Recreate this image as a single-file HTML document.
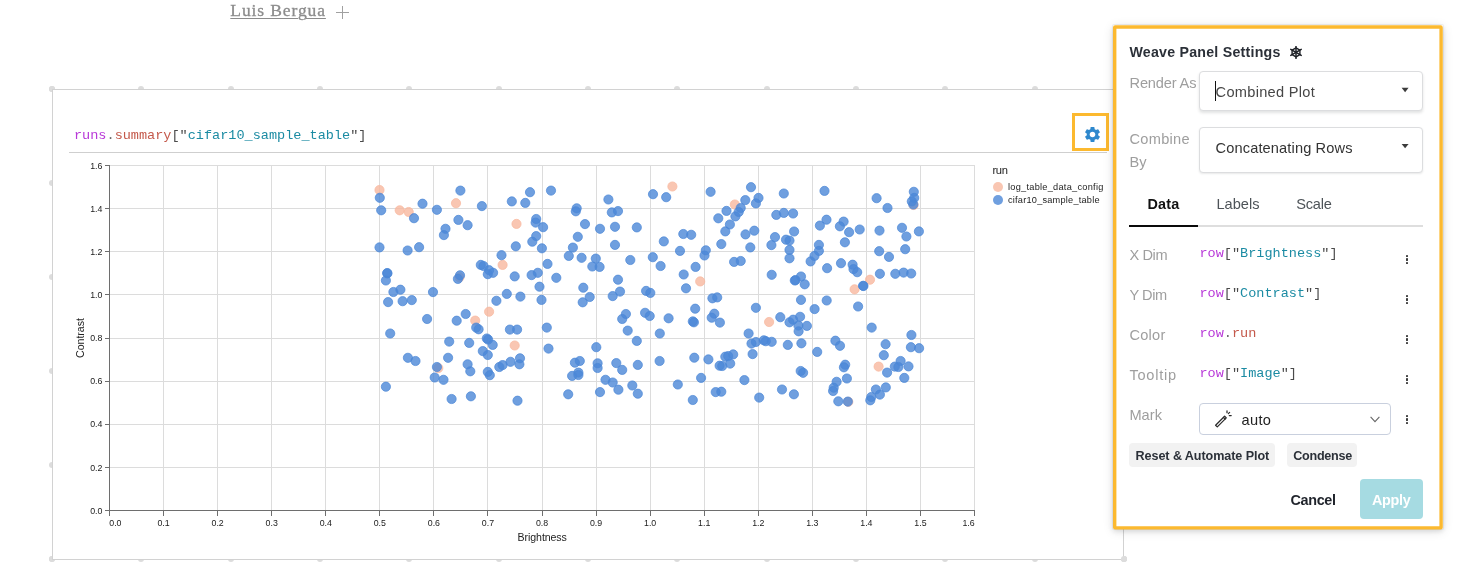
<!DOCTYPE html>
<html lang="en"><head><meta charset="utf-8"><title>Weave Panel Settings</title>
<style>
html,body{margin:0;padding:0;background:#fff;}
body{width:1464px;height:576px;position:relative;overflow:hidden;font-family:'Liberation Sans', sans-serif;}
#root{position:absolute;left:0;top:0;width:1464px;height:576px;will-change:transform;}
.t{position:absolute;white-space:nowrap;}
.gd{position:absolute;width:6px;height:6px;border-radius:50%;background:#dcdcdc;}
#mainpanel{position:absolute;left:52px;top:89px;width:1070px;height:469px;border:1px solid #d2d2d2;background:#fff;}
#gearbox{position:absolute;left:1072px;top:113px;width:31px;height:32px;border:3px solid #fcb92f;background:#fff;}
.b{fill:#4b87d7;stroke:#4b87d7;}
.p{fill:#f8b89f;stroke:#f8b89f;}
.lg{position:absolute;width:10px;height:10px;border-radius:50%;}
#sp{position:absolute;left:1113px;top:25px;width:330px;height:504px;background:#fff;border-radius:1px;
 box-shadow:0 0 0 1px rgba(34,36,38,.06),0 2px 5px 0 rgba(34,36,38,.13),0 2px 11px 0 rgba(34,36,38,.12);}
.dd{position:absolute;box-sizing:border-box;border:1px solid #dcdddf;border-radius:4px;background:#fff;}
.caret{position:absolute;width:0;height:0;border-left:3.5px solid transparent;border-right:3.5px solid transparent;border-top:4.5px solid #3c3c3c;}
.sb{position:absolute;height:24px;border-radius:4px;background:#f2f2f2;}
</style></head>
<body>
<div id="root">
<span class="t" id="hdr" style="left:230.30px;top:0.34px;font:400 17.5px/20px 'Liberation Serif', serif;color:#8c8c8c;letter-spacing:0.898px;-webkit-text-stroke:0.3px #8c8c8c;text-decoration:underline;text-decoration-thickness:1px;text-underline-offset:1.5px;">Luis Bergua</span>
<div style="position:absolute;left:336px;top:12px;width:13px;height:1px;background:#a0a0a0"></div>
<div style="position:absolute;left:342px;top:5.5px;width:1px;height:13.5px;background:#a0a0a0"></div>
<div class="gd" style="left:49.0px;top:86.0px"></div>
<div class="gd" style="left:49.0px;top:556.0px"></div>
<div class="gd" style="left:138.3px;top:86.0px"></div>
<div class="gd" style="left:138.3px;top:556.0px"></div>
<div class="gd" style="left:227.7px;top:86.0px"></div>
<div class="gd" style="left:227.7px;top:556.0px"></div>
<div class="gd" style="left:317.0px;top:86.0px"></div>
<div class="gd" style="left:317.0px;top:556.0px"></div>
<div class="gd" style="left:406.3px;top:86.0px"></div>
<div class="gd" style="left:406.3px;top:556.0px"></div>
<div class="gd" style="left:495.6px;top:86.0px"></div>
<div class="gd" style="left:495.6px;top:556.0px"></div>
<div class="gd" style="left:585.0px;top:86.0px"></div>
<div class="gd" style="left:585.0px;top:556.0px"></div>
<div class="gd" style="left:674.3px;top:86.0px"></div>
<div class="gd" style="left:674.3px;top:556.0px"></div>
<div class="gd" style="left:763.6px;top:86.0px"></div>
<div class="gd" style="left:763.6px;top:556.0px"></div>
<div class="gd" style="left:853.0px;top:86.0px"></div>
<div class="gd" style="left:853.0px;top:556.0px"></div>
<div class="gd" style="left:942.3px;top:86.0px"></div>
<div class="gd" style="left:942.3px;top:556.0px"></div>
<div class="gd" style="left:1031.6px;top:86.0px"></div>
<div class="gd" style="left:1031.6px;top:556.0px"></div>
<div class="gd" style="left:1121.0px;top:86.0px"></div>
<div class="gd" style="left:1121.0px;top:556.0px"></div>
<div class="gd" style="left:49.0px;top:86.0px"></div>
<div class="gd" style="left:1121.0px;top:86.0px"></div>
<div class="gd" style="left:49.0px;top:180.0px"></div>
<div class="gd" style="left:1121.0px;top:180.0px"></div>
<div class="gd" style="left:49.0px;top:274.0px"></div>
<div class="gd" style="left:1121.0px;top:274.0px"></div>
<div class="gd" style="left:49.0px;top:368.0px"></div>
<div class="gd" style="left:1121.0px;top:368.0px"></div>
<div class="gd" style="left:49.0px;top:462.0px"></div>
<div class="gd" style="left:1121.0px;top:462.0px"></div>
<div class="gd" style="left:49.0px;top:556.0px"></div>
<div class="gd" style="left:1121.0px;top:556.0px"></div>
<div id="mainpanel"></div>
<div class="gd" style="left:1121px;top:556px"></div>
<span class="t" id="expr" style="left:74.00px;top:125.69px;font:400 13.54px/20px 'Liberation Mono', monospace;color:#444;letter-spacing:0.004px;"><span style="color:#b838d8">runs</span><span style="color:#6b6b6b">.</span><span style="color:#c4594b">summary</span><span style="color:#4a4a4a">[&quot;</span><span style="color:#1b8ba3">cifar10_sample_table</span><span style="color:#4a4a4a">&quot;]</span></span>
<div style="position:absolute;left:69px;top:152px;width:1038px;height:1px;background:#cfcfcf"></div>
<div id="gearbox"></div>
<svg style="position:absolute;left:1083px;top:124.9px" width="19" height="19" viewBox="0 0 24 24"><path fill="#2e88cd" d="M19.14 12.94c.04-.3.06-.61.06-.94 0-.32-.02-.64-.07-.94l2.03-1.58a.49.49 0 0 0 .12-.61l-1.92-3.32a.488.488 0 0 0-.59-.22l-2.39.96c-.5-.38-1.03-.7-1.62-.94l-.36-2.54a.484.484 0 0 0-.48-.41h-3.84c-.24 0-.43.17-.47.41l-.36 2.54c-.59.24-1.13.57-1.62.94l-2.39-.96c-.22-.08-.47 0-.59.22L2.74 8.87c-.12.21-.08.47.12.61l2.03 1.58c-.05.3-.09.63-.09.94s.02.64.07.94l-2.03 1.58a.49.49 0 0 0-.12.61l1.92 3.32c.12.22.37.29.59.22l2.39-.96c.5.38 1.03.7 1.62.94l.36 2.54c.05.24.24.41.48.41h3.84c.24 0 .44-.17.47-.41l.36-2.54c.59-.24 1.13-.56 1.62-.94l2.39.96c.22.08.47 0 .59-.22l1.92-3.32c.12-.22.07-.47-.12-.61l-2.01-1.58zM12 15.6c-1.98 0-3.6-1.62-3.6-3.6s1.62-3.6 3.6-3.6 3.6 1.62 3.6 3.6-1.62 3.6-3.6 3.6z"/></svg>
<svg id="chart" style="position:absolute;left:0;top:0" width="1113" height="576" viewBox="0 0 1113 576">
<path d="M109.5 165.5V510.5M163.5 165.5V510.5M217.5 165.5V510.5M271.5 165.5V510.5M325.5 165.5V510.5M379.5 165.5V510.5M433.5 165.5V510.5M487.5 165.5V510.5M542.5 165.5V510.5M596.5 165.5V510.5M650.5 165.5V510.5M704.5 165.5V510.5M758.5 165.5V510.5M812.5 165.5V510.5M866.5 165.5V510.5M920.5 165.5V510.5M974.5 165.5V510.5M109.5 510.5H974.5M109.5 467.5H974.5M109.5 424.5H974.5M109.5 381.5H974.5M109.5 338.5H974.5M109.5 294.5H974.5M109.5 251.5H974.5M109.5 208.5H974.5M109.5 165.5H974.5" stroke="#dcdcdc" stroke-width="1" fill="none" shape-rendering="crispEdges"/>
<path d="M109.5 510.5v5M163.5 510.5v5M217.5 510.5v5M271.5 510.5v5M325.5 510.5v5M379.5 510.5v5M433.5 510.5v5M487.5 510.5v5M542.5 510.5v5M596.5 510.5v5M650.5 510.5v5M704.5 510.5v5M758.5 510.5v5M812.5 510.5v5M866.5 510.5v5M920.5 510.5v5M974.5 510.5v5M109.5 510.5h-5M109.5 467.5h-5M109.5 424.5h-5M109.5 381.5h-5M109.5 338.5h-5M109.5 294.5h-5M109.5 251.5h-5M109.5 208.5h-5M109.5 165.5h-5" stroke="#6e6e6e" stroke-width="1" fill="none" shape-rendering="crispEdges"/>
<path d="M109.5 165.5V510.5H974.5" stroke="#6e6e6e" stroke-width="1" fill="none" shape-rendering="crispEdges"/>
<g fill-opacity="0.8" stroke-opacity="0.8" stroke-width="0.9"><circle class="p" cx="379.5" cy="190.0" r="4.6"/><circle class="p" cx="399.7" cy="210.3" r="4.6"/><circle class="p" cx="408.7" cy="212.0" r="4.6"/><circle class="p" cx="456.0" cy="203.2" r="4.6"/><circle class="p" cx="516.5" cy="223.9" r="4.6"/><circle class="p" cx="672.4" cy="186.5" r="4.6"/><circle class="p" cx="734.8" cy="204.5" r="4.6"/><circle class="p" cx="913.6" cy="205.0" r="4.6"/><circle class="p" cx="459.5" cy="277.3" r="4.6"/><circle class="p" cx="502.6" cy="264.9" r="4.6"/><circle class="p" cx="489.1" cy="311.7" r="4.6"/><circle class="p" cx="475.2" cy="320.6" r="4.6"/><circle class="p" cx="700.2" cy="281.4" r="4.6"/><circle class="p" cx="870.0" cy="279.7" r="4.6"/><circle class="p" cx="854.6" cy="289.3" r="4.6"/><circle class="p" cx="769.1" cy="322.0" r="4.6"/><circle class="p" cx="514.7" cy="345.5" r="4.6"/><circle class="p" cx="438.3" cy="368.1" r="4.6"/><circle class="p" cx="878.6" cy="366.6" r="4.6"/><circle class="p" cx="848.3" cy="401.8" r="4.6"/><circle class="b" cx="379.8" cy="197.8" r="4.6"/><circle class="b" cx="381.2" cy="210.3" r="4.6"/><circle class="b" cx="414.0" cy="218.2" r="4.6"/><circle class="b" cx="422.5" cy="203.7" r="4.6"/><circle class="b" cx="436.9" cy="209.8" r="4.6"/><circle class="b" cx="460.4" cy="190.6" r="4.6"/><circle class="b" cx="481.9" cy="206.1" r="4.6"/><circle class="b" cx="458.4" cy="219.9" r="4.6"/><circle class="b" cx="467.6" cy="225.2" r="4.6"/><circle class="b" cx="445.5" cy="228.8" r="4.6"/><circle class="b" cx="443.9" cy="235.1" r="4.6"/><circle class="b" cx="511.8" cy="201.4" r="4.6"/><circle class="b" cx="525.3" cy="202.9" r="4.6"/><circle class="b" cx="530.0" cy="192.2" r="4.6"/><circle class="b" cx="551.0" cy="190.6" r="4.6"/><circle class="b" cx="536.2" cy="219.0" r="4.6"/><circle class="b" cx="535.6" cy="222.6" r="4.6"/><circle class="b" cx="543.1" cy="227.2" r="4.6"/><circle class="b" cx="536.2" cy="236.1" r="4.6"/><circle class="b" cx="532.3" cy="241.7" r="4.6"/><circle class="b" cx="515.8" cy="246.3" r="4.6"/><circle class="b" cx="541.9" cy="248.3" r="4.6"/><circle class="b" cx="501.5" cy="255.2" r="4.6"/><circle class="b" cx="379.5" cy="247.4" r="4.6"/><circle class="b" cx="407.6" cy="250.5" r="4.6"/><circle class="b" cx="419.1" cy="247.2" r="4.6"/><circle class="b" cx="653.0" cy="194.2" r="4.6"/><circle class="b" cx="666.2" cy="197.2" r="4.6"/><circle class="b" cx="710.6" cy="191.8" r="4.6"/><circle class="b" cx="608.4" cy="199.5" r="4.6"/><circle class="b" cx="576.7" cy="208.3" r="4.6"/><circle class="b" cx="575.8" cy="211.3" r="4.6"/><circle class="b" cx="611.8" cy="212.4" r="4.6"/><circle class="b" cx="618.0" cy="211.1" r="4.6"/><circle class="b" cx="585.0" cy="224.1" r="4.6"/><circle class="b" cx="600.0" cy="228.8" r="4.6"/><circle class="b" cx="615.0" cy="226.8" r="4.6"/><circle class="b" cx="636.8" cy="227.4" r="4.6"/><circle class="b" cx="577.8" cy="236.8" r="4.6"/><circle class="b" cx="615.0" cy="244.9" r="4.6"/><circle class="b" cx="572.9" cy="247.6" r="4.6"/><circle class="b" cx="568.8" cy="255.9" r="4.6"/><circle class="b" cx="581.6" cy="257.8" r="4.6"/><circle class="b" cx="595.8" cy="258.6" r="4.6"/><circle class="b" cx="630.3" cy="260.0" r="4.6"/><circle class="b" cx="652.8" cy="257.2" r="4.6"/><circle class="b" cx="663.8" cy="241.4" r="4.6"/><circle class="b" cx="680.0" cy="250.9" r="4.6"/><circle class="b" cx="683.3" cy="234.0" r="4.6"/><circle class="b" cx="691.2" cy="234.8" r="4.6"/><circle class="b" cx="705.8" cy="250.3" r="4.6"/><circle class="b" cx="704.5" cy="255.5" r="4.6"/><circle class="b" cx="745.3" cy="200.1" r="4.6"/><circle class="b" cx="740.7" cy="208.0" r="4.6"/><circle class="b" cx="738.7" cy="212.0" r="4.6"/><circle class="b" cx="735.4" cy="216.4" r="4.6"/><circle class="b" cx="726.5" cy="210.9" r="4.6"/><circle class="b" cx="718.3" cy="218.3" r="4.6"/><circle class="b" cx="729.9" cy="224.5" r="4.6"/><circle class="b" cx="725.3" cy="231.4" r="4.6"/><circle class="b" cx="721.3" cy="244.1" r="4.6"/><circle class="b" cx="745.5" cy="234.4" r="4.6"/><circle class="b" cx="740.7" cy="261.0" r="4.6"/><circle class="b" cx="751.0" cy="187.2" r="4.6"/><circle class="b" cx="758.5" cy="197.9" r="4.6"/><circle class="b" cx="755.9" cy="203.4" r="4.6"/><circle class="b" cx="783.8" cy="193.5" r="4.6"/><circle class="b" cx="776.3" cy="214.9" r="4.6"/><circle class="b" cx="783.8" cy="212.9" r="4.6"/><circle class="b" cx="793.1" cy="213.5" r="4.6"/><circle class="b" cx="824.5" cy="190.9" r="4.6"/><circle class="b" cx="876.6" cy="198.2" r="4.6"/><circle class="b" cx="887.5" cy="208.0" r="4.6"/><circle class="b" cx="913.8" cy="191.8" r="4.6"/><circle class="b" cx="914.2" cy="197.9" r="4.6"/><circle class="b" cx="911.8" cy="201.4" r="4.6"/><circle class="b" cx="913.3" cy="204.5" r="4.6"/><circle class="b" cx="826.5" cy="219.7" r="4.6"/><circle class="b" cx="819.9" cy="225.6" r="4.6"/><circle class="b" cx="843.6" cy="221.6" r="4.6"/><circle class="b" cx="839.9" cy="226.3" r="4.6"/><circle class="b" cx="849.1" cy="232.2" r="4.6"/><circle class="b" cx="859.7" cy="229.5" r="4.6"/><circle class="b" cx="844.9" cy="242.3" r="4.6"/><circle class="b" cx="879.5" cy="230.6" r="4.6"/><circle class="b" cx="902.0" cy="227.8" r="4.6"/><circle class="b" cx="906.4" cy="236.5" r="4.6"/><circle class="b" cx="918.9" cy="231.4" r="4.6"/><circle class="b" cx="905.2" cy="249.2" r="4.6"/><circle class="b" cx="879.2" cy="251.2" r="4.6"/><circle class="b" cx="889.0" cy="256.9" r="4.6"/><circle class="b" cx="754.3" cy="230.7" r="4.6"/><circle class="b" cx="750.3" cy="247.4" r="4.6"/><circle class="b" cx="775.0" cy="237.1" r="4.6"/><circle class="b" cx="771.4" cy="245.1" r="4.6"/><circle class="b" cx="794.1" cy="231.5" r="4.6"/><circle class="b" cx="786.0" cy="239.7" r="4.6"/><circle class="b" cx="789.5" cy="240.6" r="4.6"/><circle class="b" cx="789.5" cy="249.9" r="4.6"/><circle class="b" cx="789.5" cy="258.3" r="4.6"/><circle class="b" cx="818.9" cy="244.9" r="4.6"/><circle class="b" cx="818.9" cy="250.9" r="4.6"/><circle class="b" cx="814.5" cy="255.9" r="4.6"/><circle class="b" cx="387.2" cy="273.1" r="4.6"/><circle class="b" cx="387.4" cy="273.4" r="4.6"/><circle class="b" cx="385.9" cy="280.5" r="4.6"/><circle class="b" cx="393.4" cy="292.0" r="4.6"/><circle class="b" cx="400.4" cy="289.7" r="4.6"/><circle class="b" cx="388.1" cy="302.1" r="4.6"/><circle class="b" cx="402.6" cy="301.2" r="4.6"/><circle class="b" cx="411.8" cy="300.1" r="4.6"/><circle class="b" cx="433.0" cy="292.1" r="4.6"/><circle class="b" cx="427.1" cy="319.0" r="4.6"/><circle class="b" cx="390.2" cy="333.5" r="4.6"/><circle class="b" cx="460.0" cy="275.3" r="4.6"/><circle class="b" cx="457.9" cy="278.9" r="4.6"/><circle class="b" cx="480.8" cy="264.9" r="4.6"/><circle class="b" cx="483.5" cy="266.0" r="4.6"/><circle class="b" cx="489.1" cy="270.2" r="4.6"/><circle class="b" cx="487.8" cy="274.2" r="4.6"/><circle class="b" cx="493.1" cy="272.8" r="4.6"/><circle class="b" cx="514.7" cy="276.4" r="4.6"/><circle class="b" cx="531.6" cy="275.1" r="4.6"/><circle class="b" cx="537.8" cy="272.8" r="4.6"/><circle class="b" cx="547.5" cy="263.9" r="4.6"/><circle class="b" cx="556.3" cy="277.8" r="4.6"/><circle class="b" cx="539.5" cy="286.7" r="4.6"/><circle class="b" cx="506.8" cy="293.9" r="4.6"/><circle class="b" cx="520.4" cy="296.6" r="4.6"/><circle class="b" cx="541.5" cy="299.9" r="4.6"/><circle class="b" cx="496.4" cy="300.8" r="4.6"/><circle class="b" cx="465.7" cy="314.0" r="4.6"/><circle class="b" cx="456.7" cy="320.7" r="4.6"/><circle class="b" cx="476.2" cy="327.6" r="4.6"/><circle class="b" cx="478.6" cy="329.3" r="4.6"/><circle class="b" cx="509.9" cy="329.6" r="4.6"/><circle class="b" cx="517.1" cy="329.6" r="4.6"/><circle class="b" cx="546.8" cy="327.6" r="4.6"/><circle class="b" cx="592.3" cy="266.5" r="4.6"/><circle class="b" cx="599.6" cy="266.9" r="4.6"/><circle class="b" cx="660.6" cy="266.0" r="4.6"/><circle class="b" cx="695.6" cy="266.9" r="4.6"/><circle class="b" cx="683.7" cy="274.5" r="4.6"/><circle class="b" cx="686.0" cy="288.3" r="4.6"/><circle class="b" cx="734.1" cy="261.9" r="4.6"/><circle class="b" cx="618.0" cy="279.7" r="4.6"/><circle class="b" cx="583.3" cy="287.7" r="4.6"/><circle class="b" cx="620.0" cy="291.6" r="4.6"/><circle class="b" cx="612.7" cy="296.1" r="4.6"/><circle class="b" cx="589.7" cy="297.0" r="4.6"/><circle class="b" cx="582.7" cy="302.3" r="4.6"/><circle class="b" cx="646.1" cy="290.9" r="4.6"/><circle class="b" cx="650.3" cy="292.9" r="4.6"/><circle class="b" cx="712.4" cy="298.3" r="4.6"/><circle class="b" cx="717.2" cy="297.4" r="4.6"/><circle class="b" cx="695.2" cy="308.7" r="4.6"/><circle class="b" cx="625.9" cy="314.0" r="4.6"/><circle class="b" cx="622.2" cy="319.0" r="4.6"/><circle class="b" cx="645.1" cy="312.8" r="4.6"/><circle class="b" cx="649.7" cy="316.0" r="4.6"/><circle class="b" cx="668.6" cy="318.3" r="4.6"/><circle class="b" cx="692.8" cy="321.4" r="4.6"/><circle class="b" cx="693.9" cy="322.3" r="4.6"/><circle class="b" cx="714.3" cy="313.7" r="4.6"/><circle class="b" cx="711.7" cy="317.7" r="4.6"/><circle class="b" cx="719.9" cy="322.6" r="4.6"/><circle class="b" cx="627.7" cy="330.6" r="4.6"/><circle class="b" cx="659.8" cy="333.5" r="4.6"/><circle class="b" cx="810.6" cy="261.4" r="4.6"/><circle class="b" cx="827.1" cy="268.2" r="4.6"/><circle class="b" cx="841.0" cy="263.2" r="4.6"/><circle class="b" cx="852.6" cy="264.7" r="4.6"/><circle class="b" cx="853.5" cy="269.1" r="4.6"/><circle class="b" cx="857.2" cy="272.2" r="4.6"/><circle class="b" cx="879.9" cy="273.8" r="4.6"/><circle class="b" cx="895.3" cy="273.8" r="4.6"/><circle class="b" cx="903.6" cy="272.6" r="4.6"/><circle class="b" cx="911.2" cy="273.5" r="4.6"/><circle class="b" cx="863.1" cy="285.8" r="4.6"/><circle class="b" cx="863.4" cy="286.0" r="4.6"/><circle class="b" cx="771.7" cy="274.8" r="4.6"/><circle class="b" cx="801.0" cy="276.5" r="4.6"/><circle class="b" cx="795.5" cy="280.1" r="4.6"/><circle class="b" cx="794.8" cy="280.5" r="4.6"/><circle class="b" cx="804.7" cy="284.3" r="4.6"/><circle class="b" cx="801.0" cy="299.9" r="4.6"/><circle class="b" cx="826.7" cy="300.5" r="4.6"/><circle class="b" cx="858.1" cy="306.5" r="4.6"/><circle class="b" cx="814.6" cy="309.1" r="4.6"/><circle class="b" cx="755.9" cy="307.8" r="4.6"/><circle class="b" cx="780.3" cy="317.2" r="4.6"/><circle class="b" cx="800.1" cy="316.8" r="4.6"/><circle class="b" cx="793.1" cy="319.7" r="4.6"/><circle class="b" cx="789.5" cy="322.3" r="4.6"/><circle class="b" cx="798.4" cy="325.6" r="4.6"/><circle class="b" cx="806.9" cy="325.9" r="4.6"/><circle class="b" cx="798.6" cy="331.3" r="4.6"/><circle class="b" cx="871.7" cy="327.6" r="4.6"/><circle class="b" cx="911.4" cy="335.0" r="4.6"/><circle class="b" cx="748.6" cy="333.5" r="4.6"/><circle class="b" cx="449.2" cy="341.6" r="4.6"/><circle class="b" cx="469.2" cy="342.9" r="4.6"/><circle class="b" cx="486.8" cy="338.5" r="4.6"/><circle class="b" cx="488.1" cy="339.6" r="4.6"/><circle class="b" cx="492.7" cy="344.9" r="4.6"/><circle class="b" cx="548.5" cy="348.6" r="4.6"/><circle class="b" cx="482.8" cy="351.1" r="4.6"/><circle class="b" cx="487.8" cy="355.0" r="4.6"/><circle class="b" cx="407.9" cy="357.8" r="4.6"/><circle class="b" cx="415.5" cy="361.0" r="4.6"/><circle class="b" cx="448.1" cy="357.8" r="4.6"/><circle class="b" cx="436.9" cy="367.0" r="4.6"/><circle class="b" cx="467.6" cy="364.3" r="4.6"/><circle class="b" cx="470.3" cy="371.3" r="4.6"/><circle class="b" cx="434.7" cy="377.5" r="4.6"/><circle class="b" cx="443.5" cy="379.8" r="4.6"/><circle class="b" cx="487.8" cy="371.9" r="4.6"/><circle class="b" cx="489.8" cy="375.2" r="4.6"/><circle class="b" cx="499.3" cy="367.0" r="4.6"/><circle class="b" cx="502.6" cy="365.1" r="4.6"/><circle class="b" cx="510.5" cy="361.8" r="4.6"/><circle class="b" cx="520.0" cy="358.3" r="4.6"/><circle class="b" cx="519.4" cy="364.3" r="4.6"/><circle class="b" cx="385.9" cy="386.7" r="4.6"/><circle class="b" cx="451.6" cy="399.0" r="4.6"/><circle class="b" cx="470.9" cy="396.3" r="4.6"/><circle class="b" cx="517.5" cy="400.7" r="4.6"/><circle class="b" cx="636.8" cy="340.9" r="4.6"/><circle class="b" cx="596.3" cy="347.2" r="4.6"/><circle class="b" cx="579.8" cy="361.0" r="4.6"/><circle class="b" cx="574.9" cy="362.7" r="4.6"/><circle class="b" cx="597.6" cy="363.3" r="4.6"/><circle class="b" cx="597.6" cy="368.0" r="4.6"/><circle class="b" cx="616.3" cy="363.1" r="4.6"/><circle class="b" cx="622.2" cy="369.9" r="4.6"/><circle class="b" cx="637.8" cy="364.9" r="4.6"/><circle class="b" cx="659.6" cy="361.0" r="4.6"/><circle class="b" cx="578.4" cy="372.6" r="4.6"/><circle class="b" cx="572.1" cy="375.9" r="4.6"/><circle class="b" cx="578.4" cy="375.0" r="4.6"/><circle class="b" cx="605.5" cy="379.8" r="4.6"/><circle class="b" cx="612.7" cy="382.5" r="4.6"/><circle class="b" cx="618.4" cy="389.7" r="4.6"/><circle class="b" cx="632.3" cy="385.5" r="4.6"/><circle class="b" cx="637.8" cy="393.7" r="4.6"/><circle class="b" cx="600.0" cy="392.1" r="4.6"/><circle class="b" cx="568.2" cy="394.3" r="4.6"/><circle class="b" cx="694.3" cy="357.7" r="4.6"/><circle class="b" cx="708.4" cy="359.4" r="4.6"/><circle class="b" cx="725.3" cy="356.7" r="4.6"/><circle class="b" cx="728.2" cy="356.1" r="4.6"/><circle class="b" cx="733.2" cy="354.4" r="4.6"/><circle class="b" cx="730.2" cy="363.6" r="4.6"/><circle class="b" cx="719.6" cy="365.7" r="4.6"/><circle class="b" cx="722.2" cy="366.0" r="4.6"/><circle class="b" cx="701.1" cy="377.9" r="4.6"/><circle class="b" cx="677.8" cy="384.5" r="4.6"/><circle class="b" cx="692.8" cy="400.0" r="4.6"/><circle class="b" cx="715.7" cy="392.1" r="4.6"/><circle class="b" cx="721.3" cy="391.7" r="4.6"/><circle class="b" cx="744.4" cy="380.1" r="4.6"/><circle class="b" cx="751.5" cy="343.6" r="4.6"/><circle class="b" cx="755.9" cy="342.0" r="4.6"/><circle class="b" cx="763.8" cy="340.3" r="4.6"/><circle class="b" cx="765.8" cy="341.2" r="4.6"/><circle class="b" cx="771.7" cy="341.8" r="4.6"/><circle class="b" cx="787.8" cy="344.9" r="4.6"/><circle class="b" cx="801.4" cy="343.3" r="4.6"/><circle class="b" cx="752.6" cy="354.1" r="4.6"/><circle class="b" cx="817.2" cy="351.9" r="4.6"/><circle class="b" cx="835.4" cy="340.7" r="4.6"/><circle class="b" cx="840.0" cy="345.8" r="4.6"/><circle class="b" cx="885.6" cy="344.2" r="4.6"/><circle class="b" cx="883.8" cy="355.2" r="4.6"/><circle class="b" cx="910.9" cy="347.2" r="4.6"/><circle class="b" cx="919.1" cy="348.2" r="4.6"/><circle class="b" cx="900.6" cy="361.0" r="4.6"/><circle class="b" cx="894.8" cy="366.6" r="4.6"/><circle class="b" cx="898.4" cy="367.0" r="4.6"/><circle class="b" cx="908.5" cy="366.4" r="4.6"/><circle class="b" cx="887.1" cy="372.6" r="4.6"/><circle class="b" cx="904.3" cy="377.9" r="4.6"/><circle class="b" cx="845.2" cy="364.7" r="4.6"/><circle class="b" cx="843.9" cy="367.3" r="4.6"/><circle class="b" cx="800.7" cy="371.0" r="4.6"/><circle class="b" cx="803.1" cy="372.8" r="4.6"/><circle class="b" cx="846.9" cy="378.5" r="4.6"/><circle class="b" cx="836.6" cy="381.8" r="4.6"/><circle class="b" cx="833.7" cy="387.7" r="4.6"/><circle class="b" cx="833.1" cy="391.0" r="4.6"/><circle class="b" cx="782.0" cy="389.5" r="4.6"/><circle class="b" cx="793.9" cy="394.3" r="4.6"/><circle class="b" cx="759.2" cy="397.6" r="4.6"/><circle class="b" cx="838.3" cy="401.3" r="4.6"/><circle class="b" cx="847.8" cy="401.6" r="4.6"/><circle class="b" cx="885.8" cy="387.4" r="4.6"/><circle class="b" cx="875.9" cy="389.5" r="4.6"/><circle class="b" cx="879.9" cy="394.6" r="4.6"/><circle class="b" cx="871.3" cy="397.0" r="4.6"/><circle class="b" cx="870.3" cy="400.3" r="4.6"/></g>
</svg>
<span class="t" id="xl0" style="left:109.30px;top:512.65px;font:400 8.8px/20px 'Liberation Sans', sans-serif;color:#1a1a1a;letter-spacing:-0.011px;">0.0</span>
<div class="t" style="left:13.56px;width:300px;text-align:center;top:512.65px;font:400 8.8px/20px 'Liberation Sans', sans-serif;color:#1a1a1a;letter-spacing:-0.011px;"><span id="xl1">0.1</span></div>
<div class="t" style="left:67.62px;width:300px;text-align:center;top:512.65px;font:400 8.8px/20px 'Liberation Sans', sans-serif;color:#1a1a1a;letter-spacing:-0.011px;"><span id="xl2">0.2</span></div>
<div class="t" style="left:121.69px;width:300px;text-align:center;top:512.65px;font:400 8.8px/20px 'Liberation Sans', sans-serif;color:#1a1a1a;letter-spacing:-0.011px;"><span id="xl3">0.3</span></div>
<div class="t" style="left:175.75px;width:300px;text-align:center;top:512.65px;font:400 8.8px/20px 'Liberation Sans', sans-serif;color:#1a1a1a;letter-spacing:-0.011px;"><span id="xl4">0.4</span></div>
<div class="t" style="left:229.81px;width:300px;text-align:center;top:512.65px;font:400 8.8px/20px 'Liberation Sans', sans-serif;color:#1a1a1a;letter-spacing:-0.011px;"><span id="xl5">0.5</span></div>
<div class="t" style="left:283.87px;width:300px;text-align:center;top:512.65px;font:400 8.8px/20px 'Liberation Sans', sans-serif;color:#1a1a1a;letter-spacing:-0.011px;"><span id="xl6">0.6</span></div>
<div class="t" style="left:337.94px;width:300px;text-align:center;top:512.65px;font:400 8.8px/20px 'Liberation Sans', sans-serif;color:#1a1a1a;letter-spacing:-0.011px;"><span id="xl7">0.7</span></div>
<div class="t" style="left:392.00px;width:300px;text-align:center;top:512.65px;font:400 8.8px/20px 'Liberation Sans', sans-serif;color:#1a1a1a;letter-spacing:-0.011px;"><span id="xl8">0.8</span></div>
<div class="t" style="left:446.06px;width:300px;text-align:center;top:512.65px;font:400 8.8px/20px 'Liberation Sans', sans-serif;color:#1a1a1a;letter-spacing:-0.011px;"><span id="xl9">0.9</span></div>
<div class="t" style="left:500.12px;width:300px;text-align:center;top:512.65px;font:400 8.8px/20px 'Liberation Sans', sans-serif;color:#1a1a1a;letter-spacing:-0.011px;"><span id="xl10">1.0</span></div>
<div class="t" style="left:554.19px;width:300px;text-align:center;top:512.65px;font:400 8.8px/20px 'Liberation Sans', sans-serif;color:#1a1a1a;letter-spacing:-0.011px;"><span id="xl11">1.1</span></div>
<div class="t" style="left:608.25px;width:300px;text-align:center;top:512.65px;font:400 8.8px/20px 'Liberation Sans', sans-serif;color:#1a1a1a;letter-spacing:-0.011px;"><span id="xl12">1.2</span></div>
<div class="t" style="left:662.31px;width:300px;text-align:center;top:512.65px;font:400 8.8px/20px 'Liberation Sans', sans-serif;color:#1a1a1a;letter-spacing:-0.011px;"><span id="xl13">1.3</span></div>
<div class="t" style="left:716.37px;width:300px;text-align:center;top:512.65px;font:400 8.8px/20px 'Liberation Sans', sans-serif;color:#1a1a1a;letter-spacing:-0.011px;"><span id="xl14">1.4</span></div>
<div class="t" style="left:770.44px;width:300px;text-align:center;top:512.65px;font:400 8.8px/20px 'Liberation Sans', sans-serif;color:#1a1a1a;letter-spacing:-0.011px;"><span id="xl15">1.5</span></div>
<span class="t" id="xl16" style="right:489.40px;top:512.65px;font:400 8.8px/20px 'Liberation Sans', sans-serif;color:#1a1a1a;letter-spacing:-0.011px;">1.6</span>
<span class="t" id="yl0" style="right:1361.60px;top:500.65px;font:400 8.8px/20px 'Liberation Sans', sans-serif;color:#1a1a1a;letter-spacing:-0.011px;">0.0</span>
<span class="t" id="yl1" style="right:1361.60px;top:457.53px;font:400 8.8px/20px 'Liberation Sans', sans-serif;color:#1a1a1a;letter-spacing:-0.011px;">0.2</span>
<span class="t" id="yl2" style="right:1361.60px;top:414.40px;font:400 8.8px/20px 'Liberation Sans', sans-serif;color:#1a1a1a;letter-spacing:-0.011px;">0.4</span>
<span class="t" id="yl3" style="right:1361.60px;top:371.28px;font:400 8.8px/20px 'Liberation Sans', sans-serif;color:#1a1a1a;letter-spacing:-0.011px;">0.6</span>
<span class="t" id="yl4" style="right:1361.60px;top:328.15px;font:400 8.8px/20px 'Liberation Sans', sans-serif;color:#1a1a1a;letter-spacing:-0.011px;">0.8</span>
<span class="t" id="yl5" style="right:1361.60px;top:285.03px;font:400 8.8px/20px 'Liberation Sans', sans-serif;color:#1a1a1a;letter-spacing:-0.011px;">1.0</span>
<span class="t" id="yl6" style="right:1361.60px;top:241.90px;font:400 8.8px/20px 'Liberation Sans', sans-serif;color:#1a1a1a;letter-spacing:-0.011px;">1.2</span>
<span class="t" id="yl7" style="right:1361.60px;top:198.78px;font:400 8.8px/20px 'Liberation Sans', sans-serif;color:#1a1a1a;letter-spacing:-0.011px;">1.4</span>
<span class="t" id="yl8" style="right:1361.60px;top:155.65px;font:400 8.8px/20px 'Liberation Sans', sans-serif;color:#1a1a1a;letter-spacing:-0.011px;">1.6</span>
<div class="t" style="left:392.20px;width:300px;text-align:center;top:527.23px;font:400 10.6px/20px 'Liberation Sans', sans-serif;color:#222;letter-spacing:-0.086px;"><span id="xt">Brightness</span></div>
<div style="position:absolute;left:80.0px;top:337.8px;width:0;height:0"><div style="position:absolute;left:-100px;top:-10px;width:200px;height:20px;transform:rotate(-90deg);text-align:center;font:400 10.6px/20px 'Liberation Sans', sans-serif;color:#222;white-space:nowrap"><span id="yt" style="letter-spacing:-0.018px">Contrast</span></div></div>
<span class="t" id="lgt" style="left:992.40px;top:160.02px;font:400 11.2px/20px 'Liberation Sans', sans-serif;color:#222;letter-spacing:-0.291px;">run</span>
<div class="lg" style="left:993px;top:182px;background:#f9c6b2"></div>
<div class="lg" style="left:993px;top:195px;background:#6f9fdf"></div>
<span class="t" id="lg1" style="left:1008.00px;top:177.41px;font:400 9.2px/20px 'Liberation Sans', sans-serif;color:#222;letter-spacing:0.270px;">log_table_data_config</span>
<span class="t" id="lg2" style="left:1008.00px;top:190.31px;font:400 9.2px/20px 'Liberation Sans', sans-serif;color:#222;letter-spacing:0.223px;">cifar10_sample_table</span>
<div id="sp"></div>
<svg style="position:absolute;left:0;top:0;pointer-events:none" width="1464" height="576"><rect x="1114.7" y="27" width="326.4" height="500.85" rx="0.4" fill="none" stroke="#fcb92f" stroke-width="3.4"/></svg>
<span class="t" id="sp_t" style="left:1129.40px;top:41.98px;font:700 14.2px/20px 'Liberation Sans', sans-serif;color:#2b3038;letter-spacing:0.240px;">Weave Panel Settings</span>
<svg style="position:absolute;left:1290px;top:46px" width="12" height="13" viewBox="0 0 12 13"><g transform="translate(6 6.4)" stroke="#1d2026" stroke-width="1.5" fill="none" stroke-linecap="round" stroke-linejoin="round"><path transform="rotate(0)" d="M0 -6V6"/><path transform="rotate(60)" d="M0 -6V6"/><path transform="rotate(120)" d="M0 -6V6"/><polygon stroke-width="1.4" points="0.00,-4.50 3.90,-2.25 3.90,2.25 0.00,4.50 -3.90,2.25 -3.90,-2.25"/></g></svg>
<span class="t" id="l_ra" style="left:1129.50px;top:72.69px;font:400 14.6px/20px 'Liberation Sans', sans-serif;color:#9e9e9e;letter-spacing:-0.151px;">Render As</span>
<div class="dd" style="left:1199px;top:71px;width:224px;height:40px;box-shadow:0 2px 3px 0 rgba(34,36,38,.13)"></div>
<div style="position:absolute;left:1215px;top:81px;width:1px;height:20px;background:#111"></div>
<span class="t" id="d_cp" style="left:1215.60px;top:81.84px;font:400 14.6px/20px 'Liberation Sans', sans-serif;color:#464646;letter-spacing:0.290px;">Combined Plot</span>
<svg style="position:absolute;left:1400px;top:86px" width="10" height="8"><path d="M1.6 1.8h7l-3.5 4.4z" fill="#3c3c3c"/></svg>
<span class="t" id="l_cb1" style="left:1129.50px;top:128.69px;font:400 14.6px/20px 'Liberation Sans', sans-serif;color:#9e9e9e;letter-spacing:0.271px;">Combine</span>
<span class="t" id="l_cb2" style="left:1129.50px;top:151.84px;font:400 14.6px/20px 'Liberation Sans', sans-serif;color:#9e9e9e;letter-spacing:-0.016px;">By</span>
<div class="dd" style="left:1199px;top:127px;width:224px;height:46px;box-shadow:0 1px 2px 0 rgba(34,36,38,.10)"></div>
<span class="t" id="d_cr" style="left:1215.60px;top:137.69px;font:400 14.6px/20px 'Liberation Sans', sans-serif;color:#333;letter-spacing:0.129px;">Concatenating Rows</span>
<svg style="position:absolute;left:1400px;top:142px" width="10" height="8"><path d="M1.6 1.9h7l-3.5 4.4z" fill="#3c3c3c"/></svg>
<div style="position:absolute;left:1129px;top:225px;width:294px;height:2px;background:#dedede"></div>
<div style="position:absolute;left:1129px;top:225px;width:69px;height:2px;background:#0a0a0a"></div>
<span class="t" id="tab1" style="left:1147.50px;top:193.76px;font:700 14.4px/20px 'Liberation Sans', sans-serif;color:#111;letter-spacing:0.199px;">Data</span>
<span class="t" id="tab2" style="left:1216.50px;top:193.69px;font:400 14.6px/20px 'Liberation Sans', sans-serif;color:#4d5358;letter-spacing:-0.003px;">Labels</span>
<span class="t" id="tab3" style="left:1296.20px;top:193.69px;font:400 14.6px/20px 'Liberation Sans', sans-serif;color:#4d5358;letter-spacing:-0.183px;">Scale</span>
<span class="t" id="rl0" style="left:1129.40px;top:244.69px;font:400 14.6px/20px 'Liberation Sans', sans-serif;color:#9e9e9e;letter-spacing:-0.387px;">X Dim</span>
<span class="t" id="rv0" style="left:1199.40px;top:244.14px;font:400 13.54px/20px 'Liberation Mono', monospace;color:#444;letter-spacing:0.004px;"><span style="color:#b838d8">row</span><span style="color:#4a4a4a">[&quot;</span><span style="color:#1b8ba3">Brightness</span><span style="color:#4a4a4a">&quot;]</span></span>
<div style="position:absolute;left:1405.9px;top:254.6px;width:2.4px;height:2.4px;background:#3a3a3a;border-radius:.4px"></div>
<div style="position:absolute;left:1405.9px;top:258.2px;width:2.4px;height:2.4px;background:#3a3a3a;border-radius:.4px"></div>
<div style="position:absolute;left:1405.9px;top:261.8px;width:2.4px;height:2.4px;background:#3a3a3a;border-radius:.4px"></div>
<span class="t" id="rl1" style="left:1129.40px;top:284.69px;font:400 14.6px/20px 'Liberation Sans', sans-serif;color:#9e9e9e;letter-spacing:-0.414px;">Y Dim</span>
<span class="t" id="rv1" style="left:1199.40px;top:284.14px;font:400 13.54px/20px 'Liberation Mono', monospace;color:#444;letter-spacing:0.003px;"><span style="color:#b838d8">row</span><span style="color:#4a4a4a">[&quot;</span><span style="color:#1b8ba3">Contrast</span><span style="color:#4a4a4a">&quot;]</span></span>
<div style="position:absolute;left:1405.9px;top:294.6px;width:2.4px;height:2.4px;background:#3a3a3a;border-radius:.4px"></div>
<div style="position:absolute;left:1405.9px;top:298.2px;width:2.4px;height:2.4px;background:#3a3a3a;border-radius:.4px"></div>
<div style="position:absolute;left:1405.9px;top:301.8px;width:2.4px;height:2.4px;background:#3a3a3a;border-radius:.4px"></div>
<span class="t" id="rl2" style="left:1129.40px;top:324.69px;font:400 14.6px/20px 'Liberation Sans', sans-serif;color:#9e9e9e;letter-spacing:0.265px;">Color</span>
<span class="t" id="rv2" style="left:1199.40px;top:324.14px;font:400 13.54px/20px 'Liberation Mono', monospace;color:#444;letter-spacing:0.001px;"><span style="color:#b838d8">row</span><span style="color:#6b6b6b">.</span><span style="color:#c4594b">run</span></span>
<div style="position:absolute;left:1405.9px;top:334.6px;width:2.4px;height:2.4px;background:#3a3a3a;border-radius:.4px"></div>
<div style="position:absolute;left:1405.9px;top:338.2px;width:2.4px;height:2.4px;background:#3a3a3a;border-radius:.4px"></div>
<div style="position:absolute;left:1405.9px;top:341.8px;width:2.4px;height:2.4px;background:#3a3a3a;border-radius:.4px"></div>
<span class="t" id="rl3" style="left:1129.40px;top:364.69px;font:400 14.6px/20px 'Liberation Sans', sans-serif;color:#9e9e9e;letter-spacing:0.759px;">Tooltip</span>
<span class="t" id="rv3" style="left:1199.40px;top:364.14px;font:400 13.54px/20px 'Liberation Mono', monospace;color:#444;letter-spacing:0.002px;"><span style="color:#b838d8">row</span><span style="color:#4a4a4a">[&quot;</span><span style="color:#1b8ba3">Image</span><span style="color:#4a4a4a">&quot;]</span></span>
<div style="position:absolute;left:1405.9px;top:374.6px;width:2.4px;height:2.4px;background:#3a3a3a;border-radius:.4px"></div>
<div style="position:absolute;left:1405.9px;top:378.2px;width:2.4px;height:2.4px;background:#3a3a3a;border-radius:.4px"></div>
<div style="position:absolute;left:1405.9px;top:381.8px;width:2.4px;height:2.4px;background:#3a3a3a;border-radius:.4px"></div>
<span class="t" id="rl4" style="left:1129.40px;top:404.84px;font:400 14.6px/20px 'Liberation Sans', sans-serif;color:#9e9e9e;letter-spacing:0.041px;">Mark</span>
<div style="position:absolute;left:1405.9px;top:414.7px;width:2.4px;height:2.4px;background:#3a3a3a;border-radius:.4px"></div>
<div style="position:absolute;left:1405.9px;top:418.3px;width:2.4px;height:2.4px;background:#3a3a3a;border-radius:.4px"></div>
<div style="position:absolute;left:1405.9px;top:421.9px;width:2.4px;height:2.4px;background:#3a3a3a;border-radius:.4px"></div>
<div style="position:absolute;left:1199px;top:403px;width:190px;height:30px;border:1px solid #c9d0de;border-radius:4px;background:#fff"></div>
<svg style="position:absolute;left:1213px;top:408px" width="21" height="21" viewBox="0 0 21 21"><g fill="none" stroke="#2a2a2a" stroke-width="1.25" stroke-linecap="round" stroke-linejoin="round"><path d="M2.6 17.2L11.6 8.2l1.7 1.7-9 9z"/><path d="M10.4 9.4l1.7 1.7"/><path d="M14.0 2.8v1.9M16.6 4.4l-1.2 1.2M18.2 7.6h-1.9"/></g></svg>
<span class="t" id="auto" style="left:1241.50px;top:409.69px;font:400 14.6px/20px 'Liberation Sans', sans-serif;color:#222;letter-spacing:0.348px;">auto</span>
<svg style="position:absolute;left:1369px;top:415px" width="12" height="9" viewBox="0 0 12 9"><path d="M1.6 1.9L6 6.6 10.4 1.9" fill="none" stroke="#666" stroke-width="1.1"/></svg>
<div class="sb" style="left:1129px;top:443px;width:145.7px"></div>
<div class="sb" style="left:1287.2px;top:443px;width:70.3px"></div>
<span class="t" id="b1" style="left:1135.60px;top:446.33px;font:700 12.6px/20px 'Liberation Sans', sans-serif;color:#2b3038;letter-spacing:-0.084px;">Reset &amp; Automate Plot</span>
<span class="t" id="b2" style="left:1293.20px;top:446.33px;font:700 12.6px/20px 'Liberation Sans', sans-serif;color:#2b3038;letter-spacing:-0.261px;">Condense</span>
<span class="t" id="cancel" style="left:1290.60px;top:489.91px;font:700 14.4px/20px 'Liberation Sans', sans-serif;color:#1f232b;letter-spacing:-0.367px;">Cancel</span>
<div style="position:absolute;left:1360px;top:479px;width:62.8px;height:40px;border-radius:4px;background:#a6dbe2"></div>
<span class="t" id="apply" style="left:1371.90px;top:489.91px;font:700 14.4px/20px 'Liberation Sans', sans-serif;color:#fff;letter-spacing:-0.257px;">Apply</span>
</div>
</body></html>
